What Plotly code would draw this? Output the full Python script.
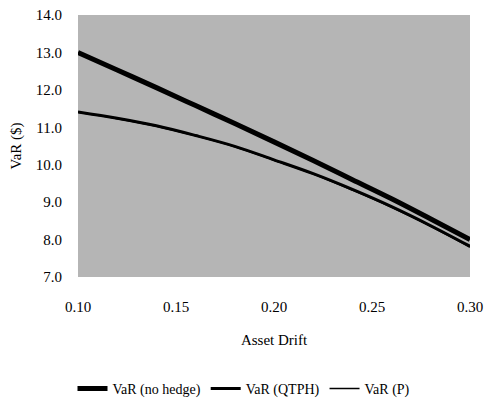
import plotly.graph_objects as go

# Asset drift grid and VaR under each hedging approach
drift = [0.10, 0.12, 0.14, 0.16, 0.18, 0.20, 0.22, 0.24, 0.26, 0.28, 0.30]
var_no_hedge = [13.00, 12.53, 12.06, 11.58, 11.10, 10.61, 10.11, 9.60, 9.09, 8.55, 8.00]
var_qtph = [11.41, 11.24, 11.04, 10.78, 10.49, 10.13, 9.76, 9.34, 8.88, 8.37, 7.82]
var_p = [11.40, 11.23, 11.03, 10.77, 10.48, 10.12, 9.75, 9.32, 8.86, 8.35, 7.80]

x_ticks = [0.10, 0.15, 0.20, 0.25, 0.30]
y_ticks = [7.0, 8.0, 9.0, 10.0, 11.0, 12.0, 13.0, 14.0]

FONT = "Liberation Serif"

fig = go.Figure()
fig.add_trace(go.Scatter(x=drift, y=var_no_hedge, mode="lines", name="VaR (no hedge)",
                         line=dict(color="black", width=5, shape="spline")))
fig.add_trace(go.Scatter(x=drift, y=var_qtph, mode="lines", name="VaR (QTPH)",
                         line=dict(color="black", width=3, shape="spline")))
fig.add_trace(go.Scatter(x=drift, y=var_p, mode="lines", name="VaR (P)",
                         line=dict(color="black", width=1.5, shape="spline")))

fig.update_layout(
    width=488, height=398,
    margin=dict(l=78, r=18, t=15, b=121, autoexpand=False),
    paper_bgcolor="white",
    plot_bgcolor="#b5b5b5",
    font=dict(family=FONT, size=15, color="black"),
    showlegend=True,
    legend=dict(orientation="h", x=0.5, xref="container", xanchor="center",
                y=0.023, yref="container", yanchor="middle",
                font=dict(family=FONT, size=14), itemwidth=30,
                bgcolor="rgba(0,0,0,0)", tracegroupgap=0),
)
fig.update_xaxes(
    range=[0.10, 0.30], tickvals=x_ticks, tickformat=".2f",
    showgrid=False, zeroline=False, showline=False,
    ticks="outside", ticklen=16, tickcolor="rgba(0,0,0,0)",
    title=dict(text="Asset Drift", standoff=20, font=dict(family=FONT, size=15)),
)
fig.update_yaxes(
    range=[7.0, 14.0], tickvals=y_ticks, tickformat=".1f",
    showgrid=False, zeroline=False, showline=False,
    ticks="outside", ticklen=12, tickcolor="rgba(0,0,0,0)",
    title=dict(text="VaR ($)", standoff=10, font=dict(family=FONT, size=15)),
)

fig.write_html("out.html")
